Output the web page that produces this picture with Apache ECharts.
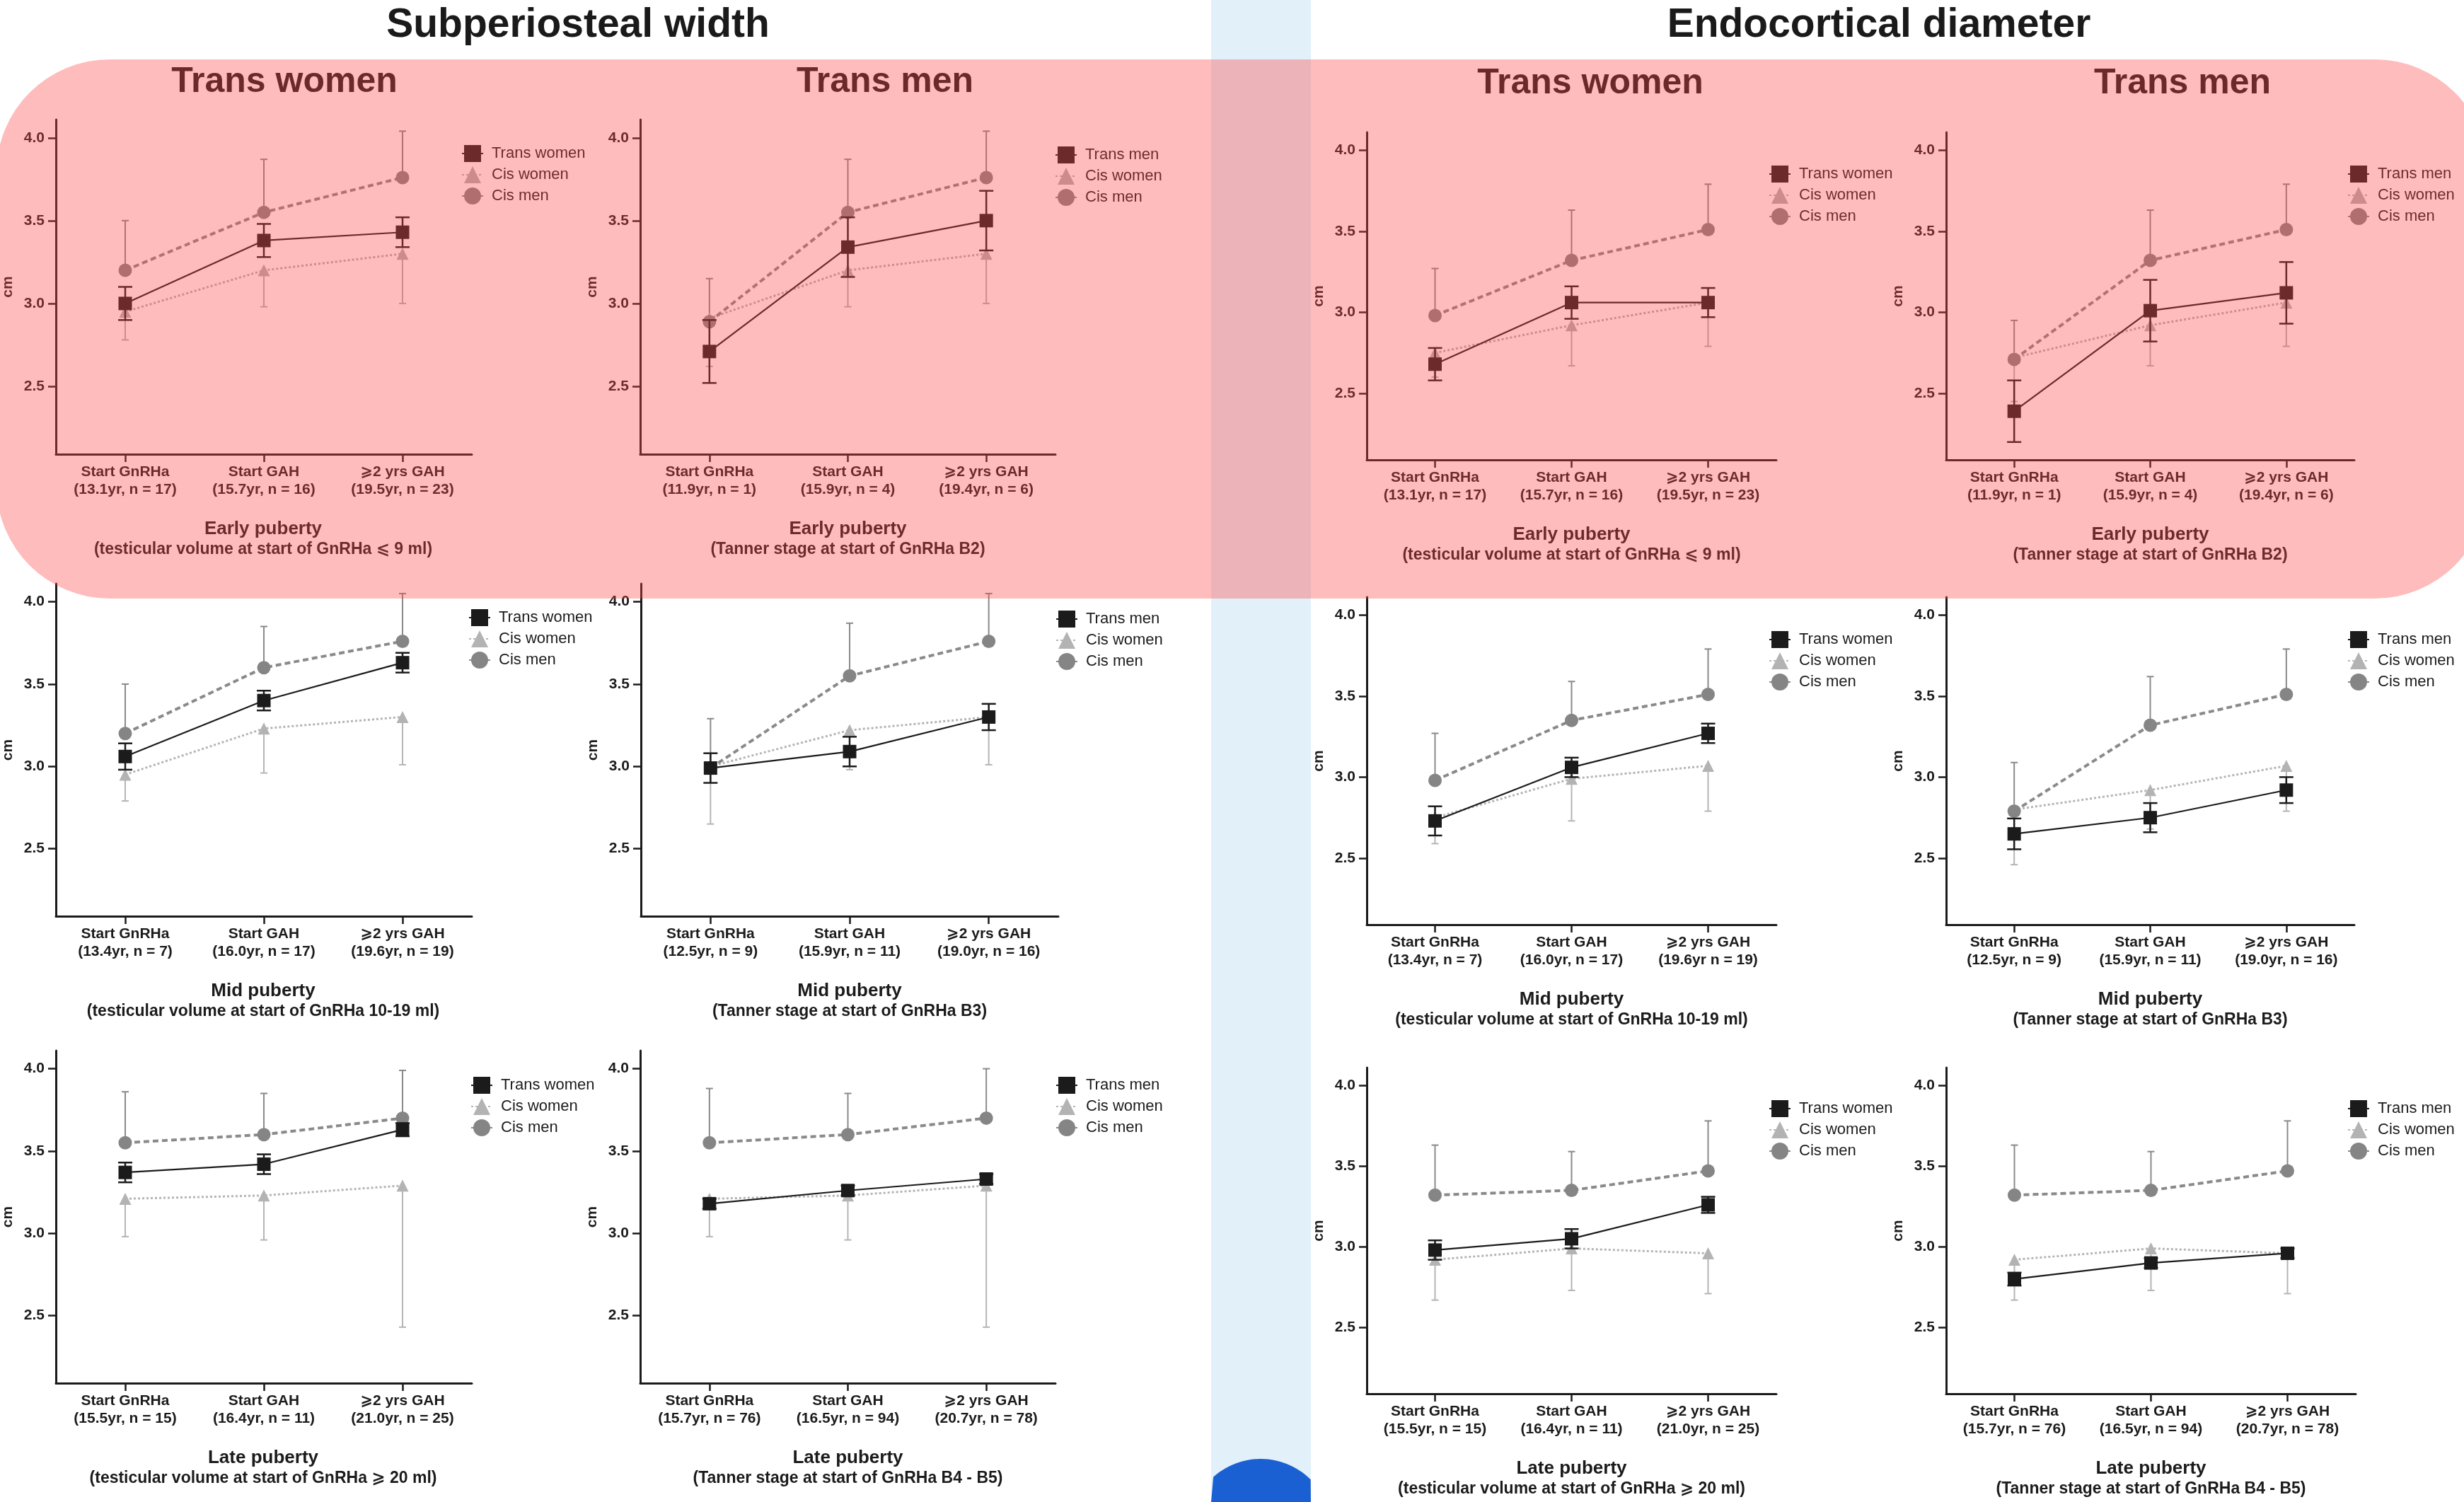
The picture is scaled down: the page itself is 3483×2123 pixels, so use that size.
<!DOCTYPE html>
<html><head><meta charset="utf-8">
<script src="https://cdn.jsdelivr.net/npm/echarts@6/dist/echarts.min.js"></script>
<style>html,body{margin:0;padding:0;background:#fff}#c{width:3483px;height:2123px}</style>
</head><body><div id="c"></div>
<script>
// ---------------- DATA ----------------
const measureTitles = ['Subperiosteal width', 'Endocortical diameter'];
const cohortHeaders = ['Trans women', 'Trans men', 'Trans women', 'Trans men'];
const transNames = ['Trans women','Trans men','Trans women','Trans men',
                    'Trans women','Trans men','Trans women','Trans men',
                    'Trans women','Trans men','Trans women','Trans men'];
const groupTitles = ['Early puberty','Early puberty','Early puberty','Early puberty',
                     'Mid puberty','Mid puberty','Mid puberty','Mid puberty',
                     'Late puberty','Late puberty','Late puberty','Late puberty'];
const groupSubtitles = [
  '(testicular volume at start of GnRHa \u2A7D 9 ml)', '(Tanner stage at start of GnRHa B2)',
  '(testicular volume at start of GnRHa \u2A7D 9 ml)', '(Tanner stage at start of GnRHa B2)',
  '(testicular volume at start of GnRHa 10-19 ml)', '(Tanner stage at start of GnRHa B3)',
  '(testicular volume at start of GnRHa 10-19 ml)', '(Tanner stage at start of GnRHa B3)',
  '(testicular volume at start of GnRHa \u2A7E 20 ml)', '(Tanner stage at start of GnRHa B4 - B5)',
  '(testicular volume at start of GnRHa \u2A7E 20 ml)', '(Tanner stage at start of GnRHa B4 - B5)'
];
const panelCategories = [
  ['Start GnRHa\n(13.1yr, n = 17)', 'Start GAH\n(15.7yr, n = 16)', '\u2A7E2 yrs GAH\n(19.5yr, n = 23)'],
  ['Start GnRHa\n(11.9yr, n = 1)',  'Start GAH\n(15.9yr, n = 4)',  '\u2A7E2 yrs GAH\n(19.4yr, n = 6)'],
  ['Start GnRHa\n(13.1yr, n = 17)', 'Start GAH\n(15.7yr, n = 16)', '\u2A7E2 yrs GAH\n(19.5yr, n = 23)'],
  ['Start GnRHa\n(11.9yr, n = 1)',  'Start GAH\n(15.9yr, n = 4)',  '\u2A7E2 yrs GAH\n(19.4yr, n = 6)'],
  ['Start GnRHa\n(13.4yr, n = 7)',  'Start GAH\n(16.0yr, n = 17)', '\u2A7E2 yrs GAH\n(19.6yr, n = 19)'],
  ['Start GnRHa\n(12.5yr, n = 9)',  'Start GAH\n(15.9yr, n = 11)', '\u2A7E2 yrs GAH\n(19.0yr, n = 16)'],
  ['Start GnRHa\n(13.4yr, n = 7)',  'Start GAH\n(16.0yr, n = 17)', '\u2A7E2 yrs GAH\n(19.6yr n = 19)'],
  ['Start GnRHa\n(12.5yr, n = 9)',  'Start GAH\n(15.9yr, n = 11)', '\u2A7E2 yrs GAH\n(19.0yr, n = 16)'],
  ['Start GnRHa\n(15.5yr, n = 15)', 'Start GAH\n(16.4yr, n = 11)', '\u2A7E2 yrs GAH\n(21.0yr, n = 25)'],
  ['Start GnRHa\n(15.7yr, n = 76)', 'Start GAH\n(16.5yr, n = 94)', '\u2A7E2 yrs GAH\n(20.7yr, n = 78)'],
  ['Start GnRHa\n(15.5yr, n = 15)', 'Start GAH\n(16.4yr, n = 11)', '\u2A7E2 yrs GAH\n(21.0yr, n = 25)'],
  ['Start GnRHa\n(15.7yr, n = 76)', 'Start GAH\n(16.5yr, n = 94)', '\u2A7E2 yrs GAH\n(20.7yr, n = 78)']
];
const yTicks = [2.5, 3.0, 3.5, 4.0];

const transMean = [
  [3.00, 3.38, 3.43], [2.71, 3.34, 3.50], [2.68, 3.06, 3.06], [2.39, 3.01, 3.12],
  [3.06, 3.40, 3.63], [2.99, 3.09, 3.30], [2.73, 3.06, 3.27], [2.65, 2.75, 2.92],
  [3.37, 3.42, 3.63], [3.18, 3.26, 3.33], [2.98, 3.05, 3.26], [2.80, 2.90, 2.96]
];
const transErr = [
  [0.10, 0.10, 0.09], [0.19, 0.18, 0.18], [0.10, 0.10, 0.09], [0.19, 0.19, 0.19],
  [0.08, 0.06, 0.06], [0.09, 0.09, 0.08], [0.09, 0.06, 0.06], [0.095, 0.09, 0.08],
  [0.06, 0.06, 0.04], [0.03, 0.03, 0.03], [0.06, 0.06, 0.05], [0.04, 0.03, 0.03]
];
const cisWomenMean = [
  [2.95, 3.20, 3.30], [2.91, 3.20, 3.30], [2.75, 2.92, 3.06], [2.72, 2.92, 3.06],
  [2.95, 3.23, 3.30], [3.00, 3.22, 3.30], [2.75, 2.99, 3.07], [2.80, 2.92, 3.07],
  [3.21, 3.23, 3.29], [3.21, 3.23, 3.29], [2.92, 2.99, 2.96], [2.92, 2.99, 2.96]
];
const cisWomenSD = [
  [0.17, 0.22, 0.30], [0.29, 0.22, 0.30], [0.15, 0.25, 0.27], [0.27, 0.25, 0.27],
  [0.16, 0.27, 0.29], [0.35, 0.24, 0.29], [0.16, 0.26, 0.28], [0.34, 0.24, 0.28],
  [0.23, 0.27, 0.86], [0.23, 0.27, 0.86], [0.25, 0.26, 0.25], [0.25, 0.26, 0.25]
];
const cisMenMean = [
  [3.20, 3.55, 3.76], [2.89, 3.55, 3.76], [2.98, 3.32, 3.51], [2.71, 3.32, 3.51],
  [3.20, 3.60, 3.76], [2.99, 3.55, 3.76], [2.98, 3.35, 3.51], [2.79, 3.32, 3.51],
  [3.55, 3.60, 3.70], [3.55, 3.60, 3.70], [3.32, 3.35, 3.47], [3.32, 3.35, 3.47]
];
const cisMenSD = [
  [0.30, 0.32, 0.28], [0.26, 0.32, 0.28], [0.29, 0.31, 0.28], [0.24, 0.31, 0.28],
  [0.30, 0.25, 0.29], [0.30, 0.32, 0.29], [0.29, 0.24, 0.28], [0.30, 0.30, 0.28],
  [0.31, 0.25, 0.29], [0.33, 0.25, 0.30], [0.31, 0.24, 0.31], [0.31, 0.24, 0.31]
];

// ---------------- LAYOUT / STYLE ----------------
const FONT = '"Liberation Sans", Arial, Helvetica, "DejaVu Sans", sans-serif';
const INK = '#1b1b1b';
const C_CW = '#b3b3b3', C_CW_LINE = '#b5b5b5';
const C_CM = '#858585', C_CM_LINE = '#8a8a8a';

const gridLeft   = [77, 905, 1932, 2751, 77, 906, 1932, 2751, 77, 905, 1932, 2751];
const gridTop    = [169, 169, 187, 187, 825, 825, 844, 844, 1485, 1485, 1509, 1509];
const gridWidth  = [590, 587, 579, 577, 590, 590, 579, 577, 590, 587, 579, 579];
const gridHeight = [473, 473, 463, 463, 470, 470, 463, 463, 470, 470, 461, 461];
const legendLeft = [652, 1491, 2500, 3318, 662, 1492, 2500, 3318, 665, 1492, 2500, 3318];
const legendRow1 = [216, 218, 245, 245, 872, 874, 903, 903, 1533, 1533, 1566, 1566];
const headerPos  = [[402, 116], [1251, 116], [2248, 118], [3085, 118]];
const mainTitlePos = [[817, 36], [2656, 36]];

function errRender(halfCap, color, width, capLow, capHigh) {
  return function (params, api) {
    const x = api.value(0);
    const lo = api.coord([x, api.value(1)]);
    const hi = api.coord([x, api.value(2)]);
    const style = { stroke: color, lineWidth: width };
    const children = [{ type: 'line', shape: { x1: lo[0], y1: lo[1], x2: hi[0], y2: hi[1] }, style }];
    if (capLow) children.push({ type: 'line', shape: { x1: lo[0] - halfCap, y1: lo[1], x2: lo[0] + halfCap, y2: lo[1] }, style });
    if (capHigh) children.push({ type: 'line', shape: { x1: hi[0] - halfCap, y1: hi[1], x2: hi[0] + halfCap, y2: hi[1] }, style });
    return { type: 'group', children };
  };
}

const titles = [], grids = [], xAxes = [], yAxes = [], series = [], legends = [];

measureTitles.forEach((t, k) => titles.push({
  text: t, left: mainTitlePos[k][0], top: mainTitlePos[k][1], padding: 0,
  textAlign: 'center', textVerticalAlign: 'middle',
  textStyle: { fontSize: 57, fontWeight: 'bold', color: '#1a1a1a', fontFamily: FONT }
}));
cohortHeaders.forEach((t, k) => titles.push({
  text: t, left: headerPos[k][0], top: headerPos[k][1], padding: 0,
  textAlign: 'center', textVerticalAlign: 'middle',
  textStyle: { fontSize: 50, fontWeight: 'bold', color: '#1a1a1a', fontFamily: FONT }
}));

for (let i = 0; i < 12; i++) {
  const cx = gridLeft[i] + gridWidth[i] / 2;
  const bottom = gridTop[i] + gridHeight[i];
  grids.push({ left: gridLeft[i], top: gridTop[i], width: gridWidth[i], height: gridHeight[i] });
  titles.push({
    text: groupTitles[i], left: cx, top: bottom + 106, padding: 0,
    textAlign: 'center', textVerticalAlign: 'middle',
    textStyle: { fontSize: 26, fontWeight: 'bold', color: INK, fontFamily: FONT }
  });
  titles.push({
    text: groupSubtitles[i], left: cx, top: bottom + 135, padding: 0,
    textAlign: 'center', textVerticalAlign: 'middle',
    textStyle: { fontSize: 23, fontWeight: 'bold', color: INK, fontFamily: FONT }
  });
  xAxes.push({
    type: 'category', gridIndex: i, data: panelCategories[i], boundaryGap: true,
    axisLine: { show: true, lineStyle: { color: INK, width: 3 } },
    axisTick: { show: true, alignWithLabel: true, length: 11, lineStyle: { color: INK, width: 2.5 } },
    axisLabel: { interval: 0, margin: 13, fontSize: 21, lineHeight: 25, fontWeight: 'bold', color: INK, fontFamily: FONT },
    splitLine: { show: false }
  });
  yAxes.push({
    type: 'value', gridIndex: i, min: 2.09, max: 4.11,
    name: 'cm', nameLocation: 'middle', nameGap: 57,
    nameTextStyle: { fontSize: 21, fontWeight: 'bold', color: INK, fontFamily: FONT },
    axisLine: { show: true, lineStyle: { color: INK, width: 3 } },
    axisTick: { show: true, length: 11, customValues: yTicks, lineStyle: { color: INK, width: 2.5 } },
    axisLabel: { customValues: yTicks, margin: 16, fontSize: 21, fontWeight: 'bold', color: INK, fontFamily: FONT,
                 formatter: v => Number(v).toFixed(1) },
    splitLine: { show: false }
  });
  // error bars
  series.push({
    type: 'custom', xAxisIndex: i, yAxisIndex: i, z: 2, silent: true,
    renderItem: errRender(5, C_CW_LINE, 2, true, false),
    data: cisWomenMean[i].map((m, k) => [k, m - cisWomenSD[i][k], m])
  });
  series.push({
    type: 'custom', xAxisIndex: i, yAxisIndex: i, z: 2, silent: true,
    renderItem: errRender(5, C_CM_LINE, 2, false, true),
    data: cisMenMean[i].map((m, k) => [k, m, m + cisMenSD[i][k]])
  });
  series.push({
    type: 'custom', xAxisIndex: i, yAxisIndex: i, z: 5, silent: true,
    renderItem: errRender(10, INK, 2.5, true, true),
    data: transMean[i].map((m, k) => [k, m - transErr[i][k], m + transErr[i][k]])
  });
  // lines
  series.push({
    name: 'Cis women', type: 'line', xAxisIndex: i, yAxisIndex: i, z: 3,
    data: cisWomenMean[i], symbol: 'triangle', symbolSize: 17,
    itemStyle: { color: C_CW }, lineStyle: { color: C_CW_LINE, width: 3, type: [3, 3] }
  });
  series.push({
    name: 'Cis men', type: 'line', xAxisIndex: i, yAxisIndex: i, z: 4,
    data: cisMenMean[i], symbol: 'circle', symbolSize: 19,
    itemStyle: { color: C_CM }, lineStyle: { color: C_CM_LINE, width: 4, type: [8, 5] }
  });
  series.push({
    name: transNames[i], type: 'line', xAxisIndex: i, yAxisIndex: i, z: 6,
    data: transMean[i], symbol: 'rect', symbolSize: 19,
    itemStyle: { color: INK }, lineStyle: { color: INK, width: 2.2 }
  });
  legends.push({
    orient: 'vertical', left: legendLeft[i], top: legendRow1[i] - 11, padding: 0,
    itemWidth: 30, itemHeight: 30, itemGap: 6, selectedMode: false,
    data: [transNames[i], 'Cis women', 'Cis men'],
    textStyle: { fontSize: 22, color: INK, fontFamily: FONT, padding: [0, 0, 0, 7] }
  });
}

// decoration: blue dome clipped to the strip
const domeCx = 1782, domeCy = 2162, domeR = 100, stripL = 1712, stripR = 1853;
const domePts = [];
for (let a = 0; a <= 180; a += 3) {
  const t = a * Math.PI / 180;
  const x = domeCx + domeR * Math.cos(t);
  if (x >= stripL && x <= stripR) domePts.push([x, domeCy - domeR * Math.sin(t)]);
}
domePts.push([stripL, 2123]);
domePts.unshift([stripR, 2123]);

const option = {
  backgroundColor: '#ffffff',
  animation: false,
  textStyle: { fontFamily: FONT },
  title: titles, grid: grids, xAxis: xAxes, yAxis: yAxes, series, legend: legends,
  graphic: [
    { type: 'rect', silent: true, z: -10, shape: { x: stripL, y: 0, width: stripR - stripL, height: 2123 }, style: { fill: '#e2f1f9' } },
    { type: 'polygon', silent: true, z: -9, shape: { points: domePts }, style: { fill: '#1b60d2' } },
    { type: 'rect', silent: true, z: 100, shape: { x: -5, y: 84, width: 3522, height: 762, r: 160 }, style: { fill: 'rgba(255,69,69,0.36)' } }
  ]
};
const chart = echarts.init(document.getElementById('c'), null, { renderer: 'canvas' });
chart.setOption(option);
</script></body></html>
